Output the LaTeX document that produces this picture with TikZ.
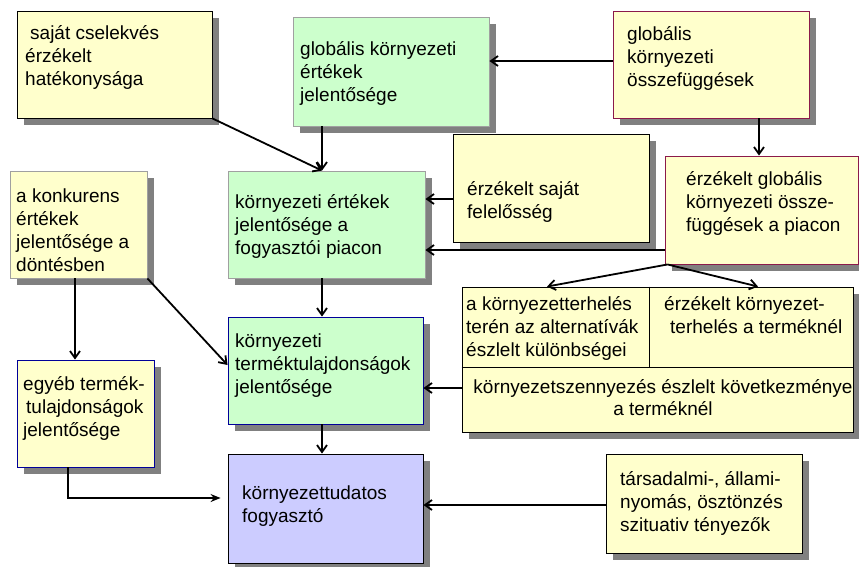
\documentclass[tikz,border=0pt]{standalone}
\usepackage{fontspec}
\setmainfont{Liberation Sans}
\usetikzlibrary{arrows.meta,shadows,calc}
\definecolor{paleyellow}{HTML}{FFFFCC}
\definecolor{palegreen}{HTML}{CCFFCC}
\definecolor{lavender}{HTML}{CCCCFF}
\definecolor{shadowgray}{HTML}{808080}
\definecolor{maroonline}{HTML}{8B1A4A}
\definecolor{blueline}{HTML}{000099}
\definecolor{grayline}{HTML}{A0A0A0}
\begin{document}
\begin{tikzpicture}[x=1pt,y=-1pt,
  box/.style={rectangle, inner sep=0pt, line width=0.9pt,
    drop shadow={shadow xshift=7pt,shadow yshift=-7pt,fill=shadowgray,opacity=1}},
  ybox/.style={box, fill=paleyellow, draw=black},
  gbox/.style={box, fill=palegreen, draw=grayline},
  boxtext/.style={inner sep=0pt, anchor=north west, align=left,
    font=\fontsize{19}{23}\selectfont},
  arr/.style={line width=1.8pt, -{Straight Barb[length=7pt,width=10pt]}},
  thinarr/.style={line width=1.1pt, -{Stealth[length=10pt,width=8pt]}, shorten >=7pt},
]
\useasboundingbox (0,0) rectangle (859,566);

% boxes
\node[ybox, minimum width=195pt, minimum height=107pt] (A) at (114.5,64.5) {};
\node[gbox, minimum width=196pt, minimum height=109pt] (B) at (391,71.5) {};
\node[ybox, draw=maroonline, minimum width=196pt, minimum height=107pt] (C) at (711,64.5) {};
\node[ybox, draw=maroonline, minimum width=193pt, minimum height=108pt] (D) at (761.5,210) {};
\node[ybox, minimum width=196pt, minimum height=108pt] (E) at (551,188) {};
\node[gbox, minimum width=197pt, minimum height=107pt] (F) at (326.5,224.5) {};
\node[ybox, draw=grayline, minimum width=137pt, minimum height=107pt] (G) at (78.5,224.5) {};
\node[ybox, draw=blueline, minimum width=137pt, minimum height=107pt] (H) at (85.5,413.5) {};
\node[gbox, draw=blueline, minimum width=195pt, minimum height=107pt] (I) at (325.5,370.5) {};
\node[box, fill=lavender, draw=black, minimum width=195pt, minimum height=109pt] (J) at (325.5,508.5) {};
\node[ybox, minimum width=391pt, minimum height=145pt] (K) at (657.5,359.5) {};
\node[ybox, minimum width=196pt, minimum height=99pt] (L) at (704,503.5) {};

% cell dividers of the combined box
\coordinate (kMidW) at ([yshift=-7.5pt]K.west);
\coordinate (kMidE) at ([yshift=-7.5pt]K.east);
\coordinate (kTopV) at ([xshift=-8.5pt]K.north);
\draw[line width=0.9pt] (kMidW) -- (kMidE);
\draw[line width=0.9pt] (kTopV) -- (kTopV |- kMidW);

% texts
\node[boxtext] (tA) at (25,20) {\rule{0pt}{19pt}\hspace{5pt}saját cselekvés\\érzékelt\\hatékonysága};
\node[boxtext] (tB) at (300,36) {\rule{0pt}{19pt}globális környezeti\\értékek\\jelentősége};
\node[boxtext] (tC) at (627,21) {\rule{0pt}{19pt}globális\\környezeti\\összefüggések};
\node[boxtext] (tD) at (686,166) {\rule{0pt}{19pt}érzékelt globális\\környezeti össze-\\függések a piacon};
\node[boxtext] (tE) at (467,176) {\rule{0pt}{19pt}érzékelt saját\\felelősség};
\node[boxtext] (tF) at (235,189) {\rule{0pt}{19pt}környezeti értékek\\jelentősége a\\fogyasztói piacon};
\node[boxtext] (tG) at (16,183) {\rule{0pt}{19pt}a konkurens\\értékek\\jelentősége a\\döntésben};
\node[boxtext] (tH) at (23,371) {\rule{0pt}{19pt}egyéb termék-\\\hspace{3pt}tulajdonságok\\jelentősége};
\node[boxtext] (tI) at (235,328) {\rule{0pt}{19pt}környezeti\\terméktulajdonságok\\jelentősége};
\node[boxtext] (tJ) at (242,480) {\rule{0pt}{19pt}környezettudatos\\fogyasztó};
\node[boxtext] (tK1) at (466,291) {\rule{0pt}{19pt}a környezetterhelés\\terén az alternatívák\\észlelt különbségei};
\node[boxtext] (tK2) at (664,291) {\rule{0pt}{19pt}érzékelt környezet-\\\hspace{6pt}terhelés a terméknél};
\node[boxtext, anchor=north, align=center, font=\fontsize{19}{22}\selectfont] (tK3) at (663,374)
  {\rule{0pt}{19pt}környezetszennyezés észlelt következménye\\a terméknél};
\node[boxtext] (tL) at (620,466) {\rule{0pt}{19pt}társadalmi-, állami-\\nyomás, ösztönzés\\szituativ tényezők};

% connectors
\coordinate (cW) at ([yshift=3.5pt]C.west);
\draw[arr] (cW) -- (cW -| B.east);
\coordinate (fIn) at ([xshift=-4.5pt]F.north);
\draw[arr] (B.south -| fIn) -- (fIn);
\draw[arr] (A.south east) -- (fIn);
\coordinate (dIn) at ([xshift=-2.5pt]D.north);
\draw[arr] (C.south -| dIn) -- (dIn);
\coordinate (eOut) at ([yshift=-11pt]E.west);
\draw[arr] (eOut) -- (eOut -| F.east);
\coordinate (dOut) at ([yshift=-40pt]D.west);
\draw[arr] (dOut) -- (dOut -| F.east);
\coordinate (dFork) at ([xshift=3pt]D.south west);
\coordinate (kInL) at ([xshift=-110.5pt]K.north);
\coordinate (kInR) at ([xshift=100.5pt]K.north);
\draw[arr] (dFork) -- (kInL);
\draw[arr] (dFork) -- (kInR);
\coordinate (kOut) at ([yshift=-28.5pt]K.west);
\draw[arr] (kOut) -- (kOut -| I.east);
\coordinate (fOut) at ([xshift=-4.5pt]F.south);
\draw[arr] (fOut) -- (fOut |- I.north);
\coordinate (gOut) at ([xshift=-3.5pt]G.south);
\draw[arr] (gOut) -- (gOut |- H.north);
\coordinate (iIn) at ([yshift=5.5pt]I.west);
\draw[arr] (G.south east) -- (iIn);
\coordinate (iOut) at ([xshift=-3.5pt]I.south);
\draw[arr] (iOut) -- (iOut |- J.north);
\coordinate (hOut) at ([xshift=-17.5pt]H.south);
\coordinate (jIn) at ([yshift=10.5pt]J.west);
\draw[thinarr] (hOut) |- (jIn);
\coordinate (lOut) at ([yshift=-1.5pt]L.west);
\draw[arr] (lOut) -- (lOut -| J.east);
\end{tikzpicture}
\end{document}
